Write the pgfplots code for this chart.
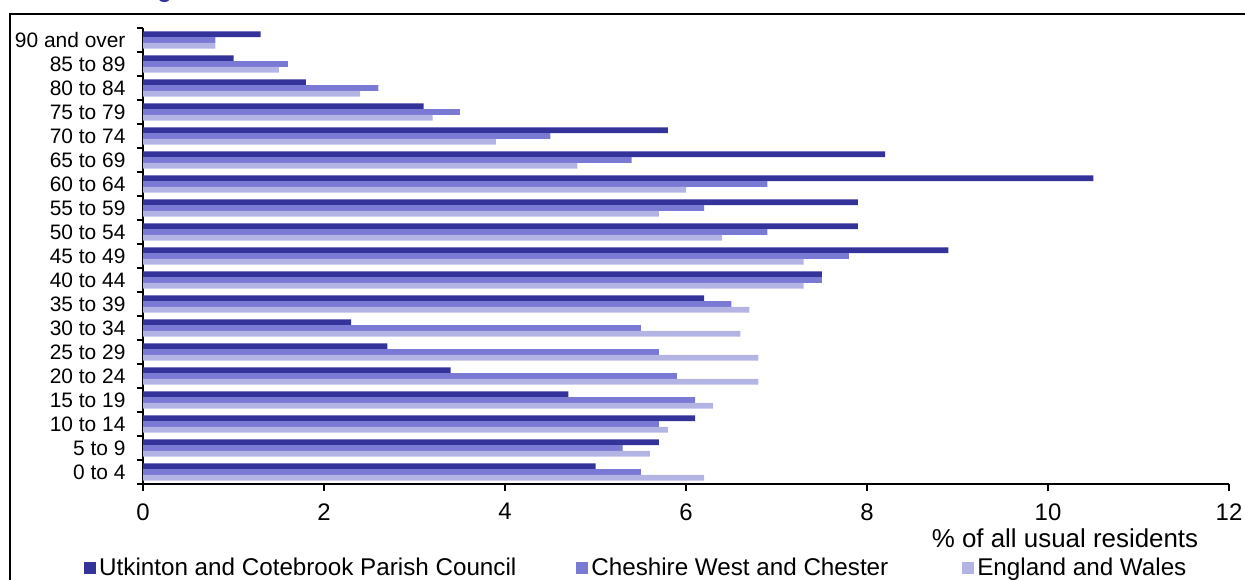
\documentclass[border=0pt]{standalone}
\usepackage{fontspec}
\setmainfont{Liberation Sans}
\usepackage{pgfplots}
\pgfplotsset{compat=1.18}
\usepackage{pgfplotstable}
\definecolor{cU}{RGB}{51,51,153}
\definecolor{cC}{RGB}{122,122,212}
\definecolor{cE}{RGB}{180,180,228}
\definecolor{ctitle}{RGB}{51,51,153}

\pgfplotstableread{
y U C E
0 5.0 5.5 6.2
1 5.7 5.3 5.6
2 6.1 5.7 5.8
3 4.7 6.1 6.3
4 3.4 5.9 6.8
5 2.7 5.7 6.8
6 2.3 5.5 6.6
7 6.2 6.5 6.7
8 7.5 7.5 7.3
9 8.9 7.8 7.3
10 7.9 6.9 6.4
11 7.9 6.2 5.7
12 10.5 6.9 6.0
13 8.2 5.4 4.8
14 5.8 4.5 3.9
15 3.1 3.5 3.2
16 1.8 2.6 2.4
17 1.0 1.6 1.5
18 1.3 0.8 0.8
}\agedata

\begin{document}
\begin{tikzpicture}
\useasboundingbox (0bp,0bp) rectangle (1245bp,580bp);
\draw[line width=2bp] (10bp,-20bp) -- (10bp,566bp) -- (1270bp,566bp);
\node[anchor=base west, font=\fontsize{24}{28}\selectfont\bfseries, text=ctitle, inner sep=0pt] at (140bp,582bp) {Age Structure};
\begin{axis}[
  at={(143bp,96bp)}, anchor=south west,
  width=1086bp, height=456bp, scale only axis,
  xmin=0, xmax=12, ymin=-0.5, ymax=18.5,
  axis x line*=bottom, axis y line*=left,
  axis line style={line width=1.5bp, black},
  tick align=outside,
  xtick={0,2,...,12},
  ytick={0,...,18},
  yticklabels={0 to 4,5 to 9,10 to 14,15 to 19,20 to 24,25 to 29,30 to 34,35 to 39,40 to 44,45 to 49,50 to 54,55 to 59,60 to 64,65 to 69,70 to 74,75 to 79,80 to 84,85 to 89,90 and over},
  minor ytick={-0.5,0.5,...,18.5},
  major tick length=7bp, minor tick length=6bp,
  major y tick style={draw=none},
  tick style={line width=1.5bp, black},
  /pgf/number format/assume math mode=true,
  xticklabel style={font=\fontsize{24}{28}\selectfont, yshift=-9bp},
  yticklabel style={font=\fontsize{21}{25}\selectfont, xshift=-7bp},
  xlabel={\% of all usual residents},
  xlabel style={at={(axis description cs:0.849,-0.1390)}, anchor=base, font=\fontsize{26}{30}\selectfont, inner sep=0pt},
  legend columns=3,
  legend style={at={(axis description cs:-0.0543,-0.1840)}, anchor=west, draw=none, fill=none, inner sep=0pt,
    font=\fontsize{24.3}{28}\selectfont,
    nodes={inner xsep=3bp, inner ysep=0pt},
    /tikz/column 2/.style={column sep=57bp},
    /tikz/column 4/.style={column sep=71bp}},
  legend image code/.code={\fill[#1, draw=none] (0bp,-6bp) rectangle (12bp,6bp);},
]
\addplot[xbar, bar width=0.24, bar shift=0.24, fill=cU, draw=none] table[x=U, y=y] {\agedata};
\addplot[xbar, bar width=0.24, bar shift=0, fill=cC, draw=none] table[x=C, y=y] {\agedata};
\addplot[xbar, bar width=0.24, bar shift=-0.24, fill=cE, draw=none] table[x=E, y=y] {\agedata};
\legend{Utkinton and Cotebrook Parish Council, Cheshire West and Chester, England and Wales}
\end{axis}
\end{tikzpicture}
\end{document}
